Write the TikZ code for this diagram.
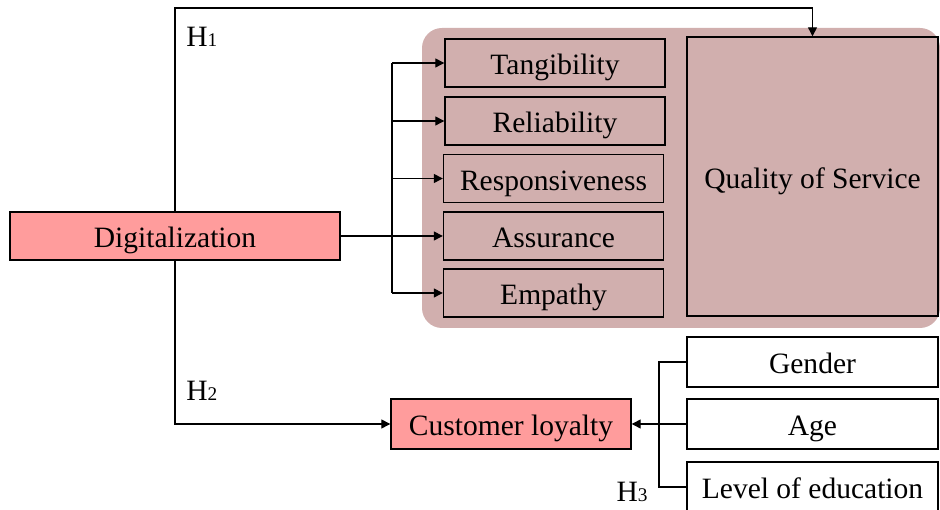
\documentclass[tikz,border=0pt]{standalone}
\usepackage{fontspec}
\setmainfont{Liberation Serif}
\usetikzlibrary{arrows.meta,calc}

\definecolor{salmon}{HTML}{FF9C9C}
\definecolor{mauve}{HTML}{D1AFAE}

\tikzset{
    box/.style={draw, line width=0.8pt, inner sep=0pt, text height=17pt, text depth=3.4pt, font=\fontsize{16.8}{20}\selectfont},
    dimbox/.style={box, minimum width=4.4cm, minimum height=0.96cm},
    sidebox/.style={box, fill=white, minimum width=5.02cm, minimum height=1.0cm},
    redbox/.style={box, fill=salmon},
    link/.style={line width=0.75pt},
    arr/.style={link, -{Triangle[length=1.8mm, width=1.8mm]}},
    hyp/.style={font=\fontsize{16.8}{20}\selectfont, inner sep=0pt}
}

\begin{document}
\begin{tikzpicture}
    \useasboundingbox (0,0) rectangle (18.8,10.2);

    % Sfondo della qualita del servizio
    \fill[mauve, rounded corners=0.4cm] (8.44,3.64) rectangle (18.8,9.64);

    % Variabile indipendente
    \node[redbox, minimum width=6.6cm, minimum height=0.96cm] (dig) at (3.5,5.48) {Digitalization};

    % Dimensioni della qualita
    \node[dimbox] (tan) at (11.1,8.94) {Tangibility};
    \node[dimbox] (rel) at (11.1,7.78) {Reliability};
    \node[dimbox] (res) at (11.07,6.63) {Responsiveness};
    \node[dimbox] (asr) at (11.07,5.48) {Assurance};
    \node[dimbox] (emp) at (11.07,4.34) {Empathy};
    \node[box, minimum width=5.02cm, minimum height=5.58cm] (qos) at (16.25,6.67) {Quality of Service};

    % Variabile dipendente e variabili di controllo
    \node[redbox, minimum width=4.8cm, minimum height=1.0cm] (cl) at (10.22,1.72) {Customer loyalty};
    \node[sidebox] (gen) at (16.25,2.96) {Gender};
    \node[sidebox] (age) at (16.25,1.72) {Age};
    \node[sidebox] (lev) at (16.25,0.46) {Level of education};

    % Etichette delle ipotesi
    \node[hyp, anchor=west] (h1) at (3.72,9.46) {H{\fontsize{11}{12}\selectfont 1}};
    \node[hyp, anchor=west] (h2) at (3.72,2.38) {H{\fontsize{11}{12}\selectfont 2}};
    \node[hyp, anchor=east] (h3) at (12.96,0.37) {H{\fontsize{11}{12}\selectfont 3}};

    % Punti di appoggio
    \coordinate (bus) at (7.84,5.48);
    \coordinate (top) at (16.25,10.04);
    \coordinate (bus2) at (13.18,1.72);

    % H1
    \draw[arr] (dig.north) |- (top) -- (qos.north);
    % Digitalizzazione -> dimensioni
    \draw[arr] (dig.east) -- (asr.west);
    \draw[link] (bus |- tan.west) -- (bus |- emp.west);
    \foreach \d in {tan, rel, res, emp}
        \draw[arr] (bus |- \d.west) -- (\d.west);
    % H2
    \draw[arr] (dig.south) |- (cl.west);
    % H3
    \draw[link] (gen.west) -- (bus2 |- gen.west) -- (bus2 |- lev.west) -- (lev.west);
    \draw[arr] (age.west) -- (cl.east);
\end{tikzpicture}
\end{document}
